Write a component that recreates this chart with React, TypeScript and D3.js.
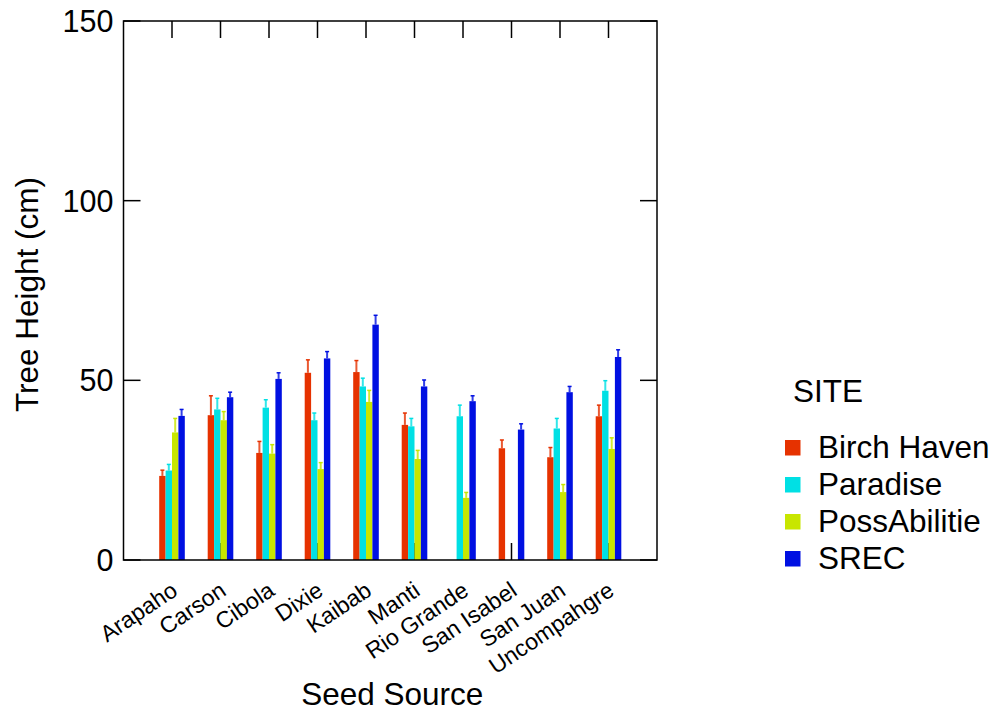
import { useEffect } from "react";
import { scalePoint, scaleBand, scaleLinear } from "d3";

// Seed sources on the x axis
const sources = ["Arapaho", "Carson", "Cibola", "Dixie", "Kaibab", "Manti", "Rio Grande", "San Isabel", "San Juan", "Uncompahgre"];
const sites = ["Birch Haven", "Paradise", "PossAbilitie", "SREC"];
const siteColors = ["#e63200", "#00e0e4", "#c8e600", "#0010e2"];

// mean heights (cm), null = no seedlings
const birchHaven = [23.4, 40.3, 29.8, 52.1, 52.3, 37.6, null, 31.1, 28.6, 40.0];
const paradise = [24.9, 41.9, 42.4, 38.9, 48.3, 37.2, 40.0, null, 36.6, 47.1];
const possAbilitie = [35.5, 38.9, 29.6, 25.3, 44.0, 28.1, 17.3, null, 18.9, 30.9];
const srec = [40.1, 45.3, 50.4, 56.1, 65.5, 48.3, 44.2, 36.3, 46.7, 56.5];

// standard errors
const birchHavenErr = [1.6, 5.4, 3.2, 3.6, 3.2, 3.3, null, 2.3, 2.7, 3.1];
const paradiseErr = [1.7, 3.1, 2.2, 2.0, 2.3, 2.2, 3.1, null, 2.8, 2.8];
const possAbilitieErr = [3.9, 2.4, 2.5, 1.8, 3.2, 2.4, 1.5, null, 2.1, 3.1];
const srecErr = [1.8, 1.4, 1.7, 1.9, 2.6, 1.8, 1.5, 1.6, 1.6, 2.0];

const yTicks = [0, 50, 100, 150];

const series = [birchHaven, paradise, possAbilitie, srec];
const seriesErr = [birchHavenErr, paradiseErr, possAbilitieErr, srecErr];

const FONT = "'Liberation Sans', Arial, sans-serif";

export default function App() {
    useEffect(() => {
        document.body.style.margin = "0";
    }, []);

    const width = 999;
    const height = 712;
    const left = 123.5;
    const right = 657;
    const top = 21;
    const bottom = 560;
    const tickLen = 17;

    const x = scalePoint().domain(sources).range([left, right]).padding(1);
    const groupW = 25.6;
    const x1 = scaleBand().domain(sites).range([-groupW / 2, groupW / 2]);
    const y = scaleLinear().domain([0, 150]).range([bottom, top]);

    return (
        <svg width={width} height={height} style={{ display: "block", background: "white" }} fontFamily={FONT}>
            {/* bottom ticks sit under the bars */}
            {sources.map((s) => (
                <line key={s + "bt"} x1={x(s)} x2={x(s)} y1={bottom} y2={bottom - tickLen} stroke="black" strokeWidth={1.5} />
            ))}

            {/* bars + error bars */}
            {sources.map((s, i) => (
                <g key={s}>
                    {sites.map((site, k) => {
                        const v = series[k][i];
                        if (v === null) return null;
                        const e = seriesErr[k][i] || 0;
                        const bx = x(s)! + x1(site)!;
                        const bw = x1.bandwidth();
                        const cx = bx + bw / 2;
                        return (
                            <g key={site}>
                                <line x1={cx} x2={cx} y1={y(v)} y2={y(v + e)} stroke={siteColors[k]} strokeWidth={2} opacity={0.8} />
                                <line x1={cx - 2} x2={cx + 2} y1={y(v + e)} y2={y(v + e)} stroke={siteColors[k]} strokeWidth={1.5} />
                                <rect x={bx} y={y(v)} width={bw} height={bottom - y(v)} fill={siteColors[k]} />
                            </g>
                        );
                    })}
                </g>
            ))}

            {/* frame */}
            <rect x={left} y={top} width={right - left} height={bottom - top} fill="none" stroke="black" strokeWidth={1.5} />

            {/* top ticks */}
            {sources.map((s) => (
                <line key={s + "tt"} x1={x(s)} x2={x(s)} y1={top} y2={top + tickLen} stroke="black" strokeWidth={1.5} />
            ))}

            {/* y ticks, left and right */}
            {yTicks.map((t) => (
                <g key={t}>
                    <line x1={left} x2={left + tickLen} y1={y(t)} y2={y(t)} stroke="black" strokeWidth={1.5} />
                    <line x1={right} x2={right - tickLen} y1={y(t)} y2={y(t)} stroke="black" strokeWidth={1.5} />
                    <text x={left - 10} y={y(t)} dy="0.36em" textAnchor="end" fontSize={30.5}>{t}</text>
                </g>
            ))}

            {/* x tick labels */}
            {sources.map((s) => (
                <text key={s + "lab"} x={0} y={0} textAnchor="end" fontSize={23}
                    transform={`translate(${x(s)! + 7}, ${bottom + 34}) rotate(-34)`}>
                    {s}
                </text>
            ))}

            {/* axis titles */}
            <text x={(left + right) / 2 + 2} y={705} textAnchor="middle" fontSize={31.5}>Seed Source</text>
            <text transform={`translate(38, ${(top + bottom) / 2 + 4}) rotate(-90)`} textAnchor="middle" fontSize={31.5}>
                Tree Height (cm)
            </text>

            {/* legend */}
            <g>
                <text x={793} y={402} fontSize={31.5}>SITE</text>
                {sites.map((site, k) => (
                    <g key={site} transform={`translate(785, ${458 + k * 37})`}>
                        <rect x={0} y={-18} width={15.5} height={15.5} fill={siteColors[k]} />
                        <text x={33} y={0} fontSize={31.5}>{site}</text>
                    </g>
                ))}
            </g>
        </svg>
    );
}
